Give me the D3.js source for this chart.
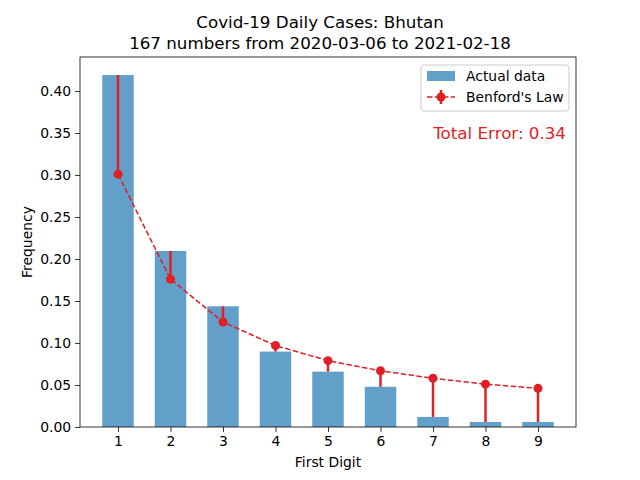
<!DOCTYPE html>
<html><head><meta charset="utf-8">
<script src="https://cdn.jsdelivr.net/npm/d3@7"></script>
<style>body{margin:0;background:#fff}text{font-family:"DejaVu Sans",sans-serif}</style>
</head><body><svg id="c" width="640" height="480"></svg>
<script>
const digits = [1, 2, 3, 4, 5, 6, 7, 8, 9];
const actual = [0.419, 0.2096, 0.1437, 0.0898, 0.0659, 0.0479, 0.012, 0.006, 0.006];
const benford = [0.301, 0.176, 0.125, 0.097, 0.079, 0.067, 0.058, 0.051, 0.046];
const yTicks = [0, 0.05, 0.1, 0.15, 0.2, 0.25, 0.3, 0.35, 0.4];
const red = "#e01f26";

const svg = d3.select("#c");
const m = {l: 80, r: 576, t: 57, b: 427};
const x = d3.scaleLinear().domain([0.276, 9.724]).range([m.l, m.r]);
const y = d3.scaleLinear().domain([0, 0.4405]).range([m.b, m.t]);

svg.selectAll("rect.bar").data(digits).enter().append("rect")
  .attr("x", d => x(d - 0.3)).attr("width", x(0.6) - x(0))
  .attr("y", (d, i) => y(actual[i])).attr("height", (d, i) => y(0) - y(actual[i]))
  .attr("fill", "#1f77b4").attr("fill-opacity", 0.7);

svg.selectAll("line.err").data(digits).enter().append("line")
  .attr("x1", d => x(d)).attr("x2", d => x(d))
  .attr("y1", (d, i) => y(benford[i])).attr("y2", (d, i) => y(actual[i]))
  .attr("stroke", red).attr("stroke-width", 2.5);

svg.append("path").datum(digits)
  .attr("d", d3.line().x(d => x(d)).y((d, i) => y(benford[i])))
  .attr("fill", "none").attr("stroke", red).attr("stroke-width", 1.5).attr("stroke-dasharray", "5.5,2.4");

svg.selectAll("circle").data(digits).enter().append("circle")
  .attr("cx", d => x(d)).attr("cy", (d, i) => y(benford[i])).attr("r", 4.5).attr("fill", red);

svg.append("rect").attr("x", m.l).attr("y", m.t).attr("width", m.r - m.l).attr("height", m.b - m.t)
  .attr("fill", "none").attr("stroke", "#000").attr("stroke-width", 0.8);

const gx = svg.append("g").attr("transform", `translate(0,${m.b})`)
  .call(d3.axisBottom(x).tickValues(digits).tickSize(4.9).tickPadding(4).tickFormat(d3.format("d")));
const gy = svg.append("g").attr("transform", `translate(${m.l},0)`)
  .call(d3.axisLeft(y).tickValues(yTicks).tickSize(4.9).tickPadding(4).tickFormat(d3.format(".2f")));
[gx, gy].forEach(g => {
  g.select(".domain").remove();
  g.selectAll("text").attr("font-size", 13.9).attr("fill", "#000").style("font-family", "DejaVu Sans");
  g.selectAll("line").attr("stroke", "#000").attr("stroke-width", 0.8);
});

svg.append("text").attr("x", 320).attr("y", 28).attr("text-anchor", "middle").attr("font-size", 16.7).text("Covid-19 Daily Cases: Bhutan");
svg.append("text").attr("x", 320).attr("y", 49).attr("text-anchor", "middle").attr("font-size", 16.7).text("167 numbers from 2020-03-06 to 2021-02-18");
svg.append("text").attr("x", 328).attr("y", 467).attr("text-anchor", "middle").attr("font-size", 13.9).text("First Digit");
svg.append("text").attr("transform", "translate(32,242) rotate(-90)").attr("text-anchor", "middle").attr("font-size", 13.9).text("Frequency");

svg.append("text").attr("x", 566).attr("y", 139).attr("text-anchor", "end").attr("font-size", 16.7).attr("fill", red).text("Total Error: 0.34");

const lg = svg.append("g");
lg.append("rect").attr("x", 421).attr("y", 65).attr("width", 148).attr("height", 46).attr("rx", 3)
  .attr("fill", "#fff").attr("fill-opacity", 0.8).attr("stroke", "#ccc");
lg.append("rect").attr("x", 427).attr("y", 71).attr("width", 28).attr("height", 10).attr("fill", "#1f77b4").attr("fill-opacity", 0.7);
lg.append("text").attr("x", 466).attr("y", 81).attr("font-size", 13.9).text("Actual data");
lg.append("line").attr("x1", 427).attr("x2", 455).attr("y1", 97).attr("y2", 97).attr("stroke", red).attr("stroke-width", 1.5).attr("stroke-dasharray", "5.5,2.4");
lg.append("line").attr("x1", 441).attr("x2", 441).attr("y1", 90).attr("y2", 104).attr("stroke", red).attr("stroke-width", 2.5);
lg.append("circle").attr("cx", 441).attr("cy", 97).attr("r", 4.5).attr("fill", red);
lg.append("text").attr("x", 466).attr("y", 102).attr("font-size", 13.9).text("Benford's Law");
</script></body></html>
